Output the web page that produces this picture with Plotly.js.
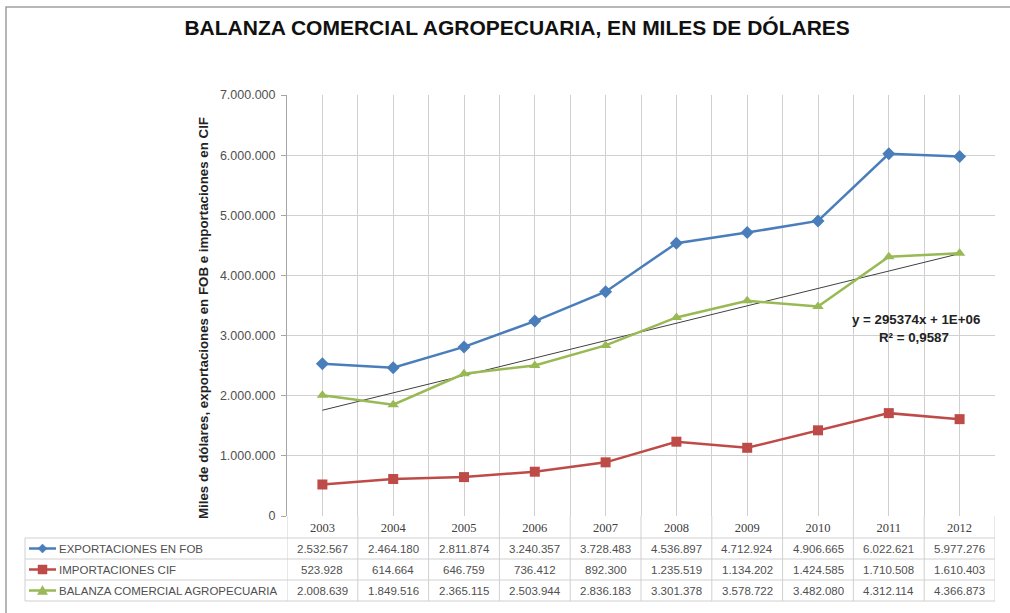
<!DOCTYPE html>
<html><head><meta charset="utf-8">
<script src="https://cdn.plot.ly/plotly-3.0.1.min.js"></script>
<style>html,body{margin:0;padding:0;background:#fff}#chart{width:1010px;height:613px}</style>
</head><body><div id="chart"></div>
<script>
const years = ['2003','2004','2005','2006','2007','2008','2009','2010','2011','2012'];
const exportaciones = [2532567,2464180,2811874,3240357,3728483,4536897,4712924,4906665,6022621,5977276];
const importaciones = [523928,614664,646759,736412,892300,1235519,1134202,1424585,1710508,1610403];
const balanza = [2008639,1849516,2365115,2503944,2836183,3301378,3578722,3482080,4312114,4366873];
const seriesNames = ['EXPORTACIONES EN FOB','IMPORTACIONES CIF','BALANZA COMERCIAL AGROPECUARIA'];
const trendLabel = ['y = 295374x + 1E+06','R² = 0,9587'];
const yTitle = 'Miles de dólares, exportaciones en FOB e importaciones en CIF';
const chartTitle = 'BALANZA COMERCIAL AGROPECUARIA, EN MILES DE DÓLARES';

const colors = ['#4a7ebb','#be4b48','#98b954'];
const symbols = ['diamond','square','triangle-up'];
const seriesData = [exportaciones, importaciones, balanza];
const xs = years.map((_, i) => i + 1);

// linear trend of balanza (least squares)
const n = xs.length;
const mx = xs.reduce((a,b)=>a+b,0)/n;
const my = balanza.reduce((a,b)=>a+b,0)/n;
let sxy=0,sxx=0;
for(let i=0;i<n;i++){sxy+=(xs[i]-mx)*(balanza[i]-my);sxx+=(xs[i]-mx)**2;}
const slope = sxy/sxx, icpt = my - slope*mx;
const trendY = [xs[0], xs[n-1]].map(x => icpt + slope*x);

const fmt = v => String(v).replace(/\B(?=(\d{3})+(?!\d))/g, '.');

const traces = [{
  x: [xs[0], xs[n-1]], y: trendY, mode: 'lines', line: {color: '#404040', width: 1},
  hoverinfo: 'skip', showlegend: false
}];
seriesData.forEach((d, k) => traces.push({
  x: xs, y: d, mode: 'lines+markers', name: seriesNames[k],
  line: {color: colors[k], width: 2.5},
  marker: {symbol: symbols[k], size: k === 0 ? 10 : 10, color: colors[k]},
  showlegend: false
}));

// plot area geometry (pixels)
const L = 287, R = 995, T = 95, B = 516, W = R - L, H = B - T;
const py = p => (B - p) / H;     // pixel y -> paper y
const px = p => (p - L) / W;     // pixel x -> paper x
const rowLines = [538, 559, 580, 601];
const rowCenters = [548.5, 569.5, 590.5];
const gridCol = '#d0d0d0';
const FONT = 'Liberation Sans, Arial, sans-serif';

const shapes = [];
const annotations = [];
// outer chart border
shapes.push({type:'rect', xref:'paper', yref:'paper', x0:px(6), x1:px(1015), y0:py(620), y1:py(7), line:{color:'#a0a0a0', width:1.5}, layer:'below'});
// table horizontal lines
rowLines.forEach(r => shapes.push({type:'line', xref:'paper', yref:'paper', x0:px(25), x1:1, y0:py(r), y1:py(r), line:{color:gridCol,width:1}}));
// table vertical lines
shapes.push({type:'line', xref:'paper', yref:'paper', x0:px(25), x1:px(25), y0:py(538), y1:py(601), line:{color:gridCol,width:1}});
for (let i = 0; i <= n; i++) {
  shapes.push({type:'line', xref:'x', yref:'paper', x0:i+0.5, x1:i+0.5, y0:0, y1:py(601), line:{color:gridCol,width:1}});
}
// legend keys in table
rowCenters.forEach((c, k) => {
  shapes.push({type:'line', xref:'paper', yref:'paper', x0:px(29), x1:px(56), y0:py(c), y1:py(c), line:{color:colors[k], width:2.5}});
  const cx = 42.5;
  let path;
  if (k === 0) path = `M${px(cx-4.5)},${py(c)} L${px(cx)},${py(c-4.5)} L${px(cx+4.5)},${py(c)} L${px(cx)},${py(c+4.5)} Z`;
  else if (k === 1) path = `M${px(cx-4.5)},${py(c-4.5)} L${px(cx+4.5)},${py(c-4.5)} L${px(cx+4.5)},${py(c+4.5)} L${px(cx-4.5)},${py(c+4.5)} Z`;
  else path = `M${px(cx-5)},${py(c+4)} L${px(cx)},${py(c-5)} L${px(cx+5)},${py(c+4)} Z`;
  shapes.push({type:'path', xref:'paper', yref:'paper', path, fillcolor:colors[k], line:{color:colors[k], width:0.5}});
  annotations.push({xref:'paper', yref:'paper', x:px(57), y:py(c), xanchor:'left', yanchor:'middle', showarrow:false,
    text: seriesNames[k], font:{family:FONT, size:11.5, color:'#505050'}});
  seriesData[k].forEach((v, i) => annotations.push({xref:'x', yref:'paper', x:xs[i], y:py(c), xanchor:'center', yanchor:'middle',
    showarrow:false, text: fmt(v), font:{family:FONT, size:11.5, color:'#505050'}}));
});
// y axis title
annotations.push({xref:'paper', yref:'paper', x:px(203), y:py(318), textangle:-90, showarrow:false, xanchor:'center', yanchor:'middle',
  text:'<b>'+yTitle+'</b>', font:{family:FONT, size:13.3, color:'#222'}});
// trend equation
annotations.push({xref:'paper', yref:'paper', x:px(916), y:py(319), showarrow:false, xanchor:'center', yanchor:'middle',
  text:'<b>'+trendLabel[0]+'</b>', font:{family:FONT, size:13.3, color:'#222'}});
annotations.push({xref:'paper', yref:'paper', x:px(914), y:py(337), showarrow:false, xanchor:'center', yanchor:'middle',
  text:'<b>'+trendLabel[1]+'</b>', font:{family:FONT, size:13.3, color:'#222'}});

const tickvals = [], ticktext = [];
for (let i = 0; i <= 2*n; i++) { tickvals.push(0.5 + i/2); ticktext.push(i % 2 === 1 ? years[(i-1)/2] : ''); }

const layout = {
  width: 1010, height: 613,
  margin: {l: L, r: 1010 - R, t: T, b: 613 - B},
  paper_bgcolor: '#fff', plot_bgcolor: '#fff',
  separators: ',.',
  title: {text: '<b>'+chartTitle+'</b>', x: 0.512, xanchor: 'center', y: 1 - 28/613, yanchor: 'middle',
    font: {family: FONT, size: 21, color: '#111'}},
  xaxis: {range: [0.5, 10.5], tickmode: 'array', tickvals, ticktext, showgrid: true, gridcolor: gridCol, gridwidth: 1,
    zeroline: false, showline: false, ticks: '', ticklabelstandoff: 2,
    tickfont: {family: 'Liberation Serif, Times New Roman, serif', size: 12.5, color: '#404040'}},
  yaxis: {range: [0, 7000000], dtick: 1000000, tickformat: ',d', showgrid: true, gridcolor: gridCol, gridwidth: 1,
    zeroline: false, showline: true, linecolor: '#a6a6a6', ticks: 'outside', ticklen: 5, tickcolor: '#a6a6a6',
    ticklabelstandoff: 3,
    tickfont: {family: FONT, size: 12.5, color: '#505050'}},
  shapes, annotations, showlegend: false
};
Plotly.newPlot('chart', traces, layout, {displayModeBar: false, staticPlot: true});
</script></body></html>
